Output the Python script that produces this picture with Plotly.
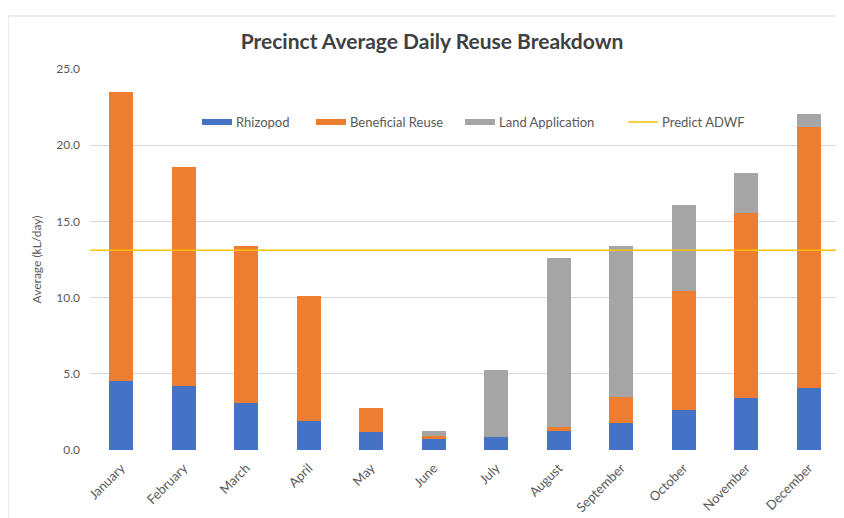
import plotly.graph_objects as go

months = ["January", "February", "March", "April", "May", "June", "July",
          "August", "September", "October", "November", "December"]
rhizopod = [4.5, 4.2, 3.1, 1.9, 1.2, 0.7, 0.85, 1.25, 1.8, 2.6, 3.4, 4.1]
beneficial = [19.0, 14.4, 10.3, 8.2, 1.55, 0.2, 0.0, 0.25, 1.7, 7.85, 12.15, 17.1]
land_app = [0.0, 0.0, 0.0, 0.0, 0.0, 0.35, 4.4, 11.1, 9.9, 5.65, 2.65, 0.85]
adwf = 13.1

series_names = ["Rhizopod", "Beneficial Reuse", "Land Application", "Predict ADWF"]
colors = ["#4472C4", "#ED7D31", "#A5A5A5", "#FFC000"]
y_ticks = [0, 5, 10, 15, 20, 25]

W, H = 844, 518
ML, MR, MT, MB = 82, 12, 61, 76
PW, PH = W - ML - MR, H - MT - MB
FONT = "Lato"


def px_x(px):
    return (px - ML) / PW


def px_y(py):
    return (H - MB - py) / PH


x_idx = list(range(len(months)))
fig = go.Figure()
for name, vals, col in zip(series_names[:3], [rhizopod, beneficial, land_app], colors[:3]):
    fig.add_trace(go.Bar(x=x_idx, y=vals, name=name, marker=dict(color=col, line=dict(width=0)),
                         showlegend=False))

fig.add_trace(go.Scatter(x=[-0.5, len(months) - 0.5], y=[adwf, adwf], mode="lines",
                         name=series_names[3], line=dict(color=colors[3], width=1.5),
                         showlegend=False))

shapes = []
annotations = []
# outer frame
shapes.append(dict(type="rect", xref="paper", yref="paper", x0=px_x(0), x1=px_x(860),
                   y0=px_y(530), y1=px_y(8), line=dict(color="#D9D9D9", width=1), layer="below"))

# custom legend
leg_x = [194, 308, 457, 620]
leg_y = 114
for i, (name, col) in enumerate(zip(series_names, colors)):
    x0 = leg_x[i]
    if i < 3:
        shapes.append(dict(type="rect", xref="paper", yref="paper", x0=px_x(x0), x1=px_x(x0 + 30),
                           y0=px_y(leg_y + 3), y1=px_y(leg_y - 3), fillcolor=col,
                           line=dict(width=0)))
    else:
        shapes.append(dict(type="line", xref="paper", yref="paper", x0=px_x(x0), x1=px_x(x0 + 30),
                           y0=px_y(leg_y), y1=px_y(leg_y), line=dict(color=col, width=1.5)))
    annotations.append(dict(text=name, xref="paper", yref="paper", x=px_x(x0 + 32), y=px_y(leg_y),
                            xanchor="left", yanchor="middle", showarrow=False,
                            font=dict(family=FONT, size=13, color="#595959")))

fig.update_layout(
    barmode="stack",
    bargap=0.615,
    width=W, height=H,
    margin=dict(l=ML, r=MR, t=MT, b=MB),
    paper_bgcolor="white", plot_bgcolor="white",
    title=dict(text="<b>Precinct Average Daily Reuse Breakdown</b>", xref="container",
               x=424 / W, y=1 - 34 / H, xanchor="center", yanchor="middle",
               font=dict(family=FONT, size=21, color="#404040")),
    xaxis=dict(tickmode="array", tickvals=x_idx, ticktext=months, range=[-0.5, len(months) - 0.5],
               tickangle=-45, showgrid=False, zeroline=False, showline=False, ticks="",
               ticklabelstandoff=7,
               tickfont=dict(family=FONT, size=13, color="#595959")),
    yaxis=dict(range=[0, 25], tickvals=y_ticks, tickformat=".1f", showgrid=True,
               gridcolor="#D9D9D9", gridwidth=1, zeroline=False, showline=False, ticks="",
               ticklabelstandoff=9,
               title=dict(text="Average (kL/day)", standoff=12,
                          font=dict(family=FONT, size=12, color="#595959")),
               tickfont=dict(family=FONT, size=12, color="#595959")),
    shapes=shapes,
    annotations=annotations,
    font=dict(family=FONT),
)

fig.write_html("out.html")
